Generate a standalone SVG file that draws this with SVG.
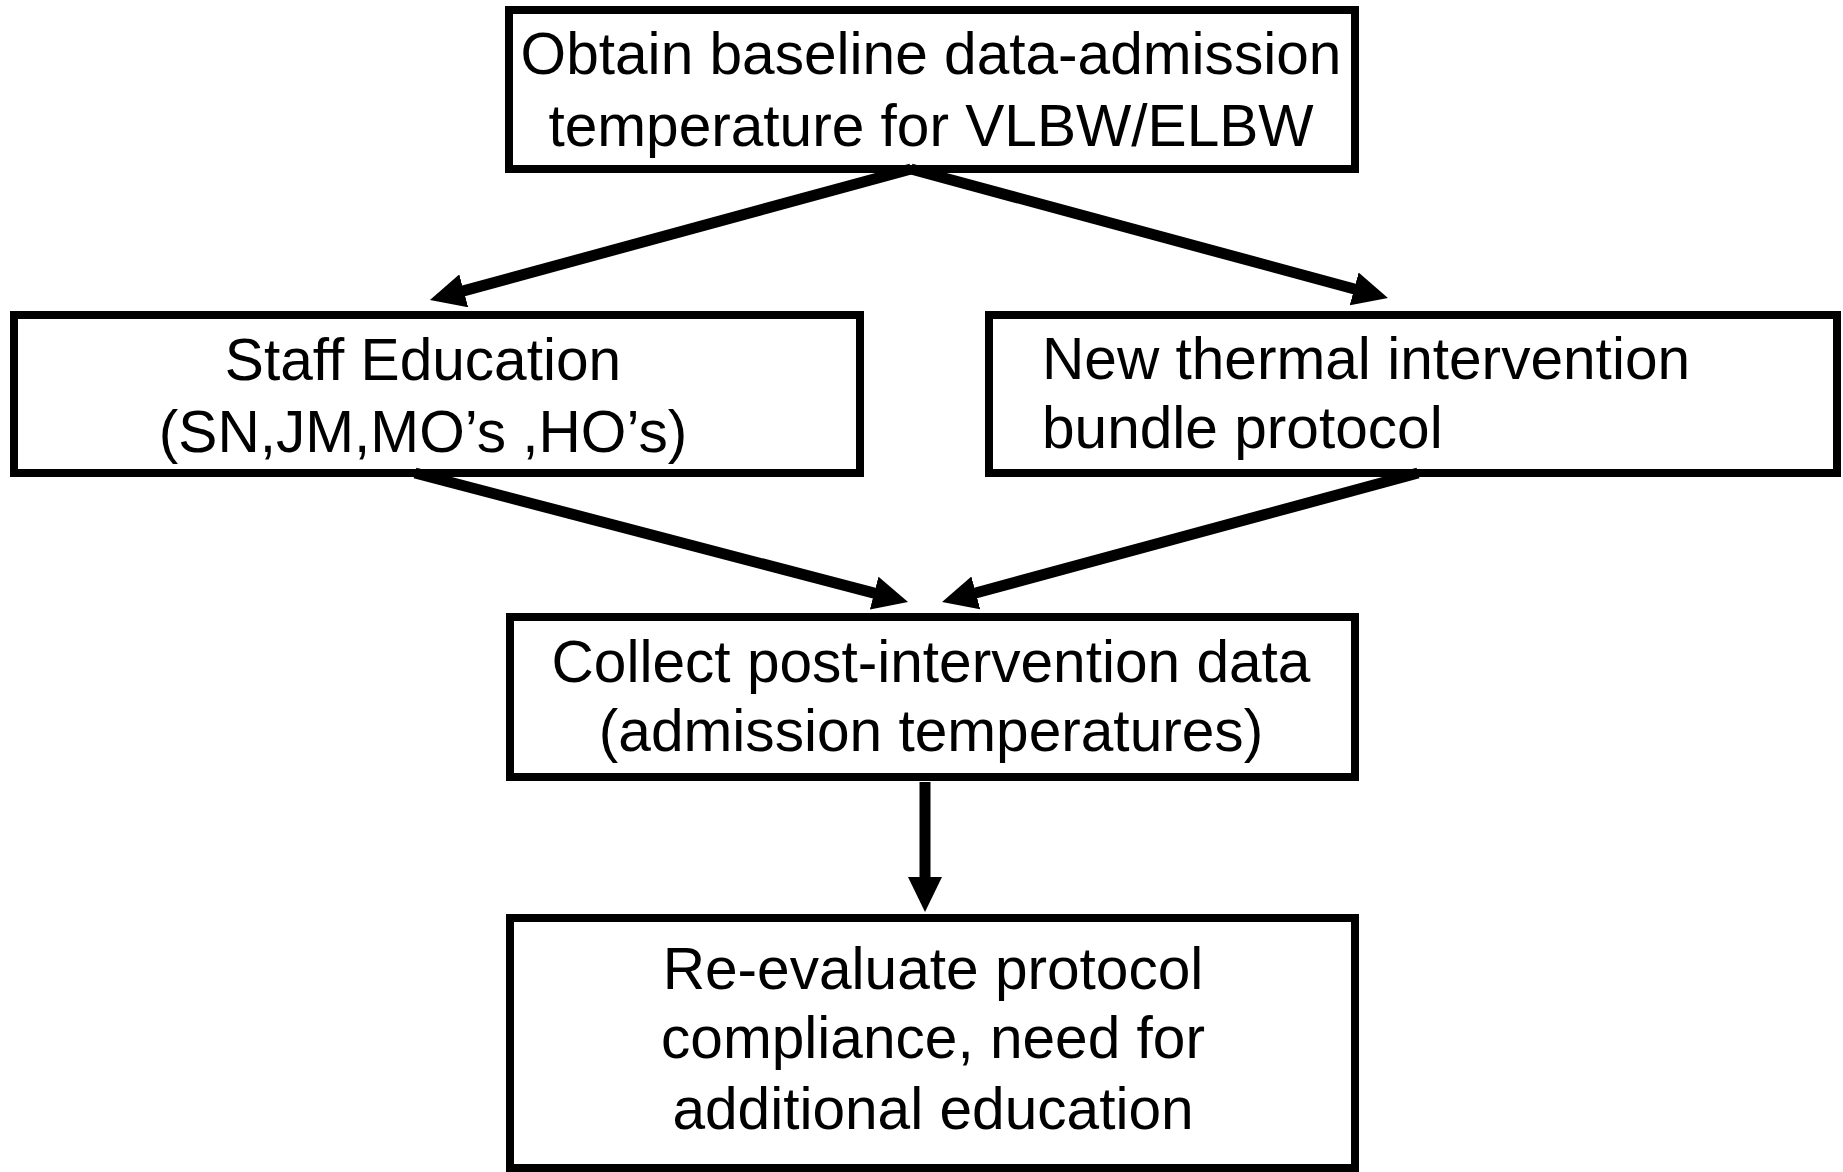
<svg xmlns="http://www.w3.org/2000/svg" width="1843" height="1172" viewBox="0 0 1843 1172">
<style>
.box{fill:#fff;stroke:#000;stroke-width:8}
.t{font-family:"Liberation Sans",Arial,sans-serif;font-size:58.6px;fill:#000}
.c{text-anchor:middle}
.conn{stroke:#000;stroke-width:11;fill:none;marker-end:url(#ah)}
</style>
<defs>
<marker id="ah" markerUnits="userSpaceOnUse" markerWidth="35" markerHeight="34" viewBox="0 0 35 34" refX="5" refY="17" orient="auto">
<path d="M0,0 L35,17 L0,34 z" fill="#000"/>
</marker>
</defs>
<rect width="1843" height="1172" fill="#fff"/>
<g id="n1">
<rect class="box" x="509" y="10" width="846" height="159"/>
<text class="t c" x="931" y="74">Obtain baseline data-admission</text>
<text class="t c" x="931" y="146">temperature for VLBW/ELBW</text>
</g>
<g id="n2">
<rect class="box" x="14" y="315" width="846" height="158"/>
<text class="t c" x="423" y="380">Staff Education</text>
<text class="t c" x="423" y="452">(SN,JM,MO’s ,HO’s)</text>
</g>
<g id="n3">
<rect class="box" x="989" y="315" width="848" height="158"/>
<text class="t" x="1042" y="379">New thermal intervention</text>
<text class="t" x="1042" y="448">bundle protocol</text>
</g>
<g id="n4">
<rect class="box" x="510" y="617" width="845" height="160"/>
<text class="t c" x="931" y="682">Collect post-intervention data</text>
<text class="t c" x="931" y="751">(admission temperatures)</text>
</g>
<g id="n5">
<rect class="box" x="510" y="918" width="845" height="250"/>
<text class="t c" x="933" y="989">Re-evaluate protocol</text>
<text class="t c" x="933" y="1058">compliance, need for</text>
<text class="t c" x="933" y="1129">additional education</text>
</g>
<g id="connectors">
<line class="conn" x1="911" y1="169" x2="458.9" y2="292.1"/>
<line class="conn" x1="911" y1="169" x2="1359" y2="290.2"/>
<line class="conn" x1="415" y1="473" x2="879" y2="594.4"/>
<line class="conn" x1="1418" y1="473" x2="971" y2="594.2"/>
<line class="conn" x1="925" y1="782" x2="925" y2="882"/>
</g>
</svg>
